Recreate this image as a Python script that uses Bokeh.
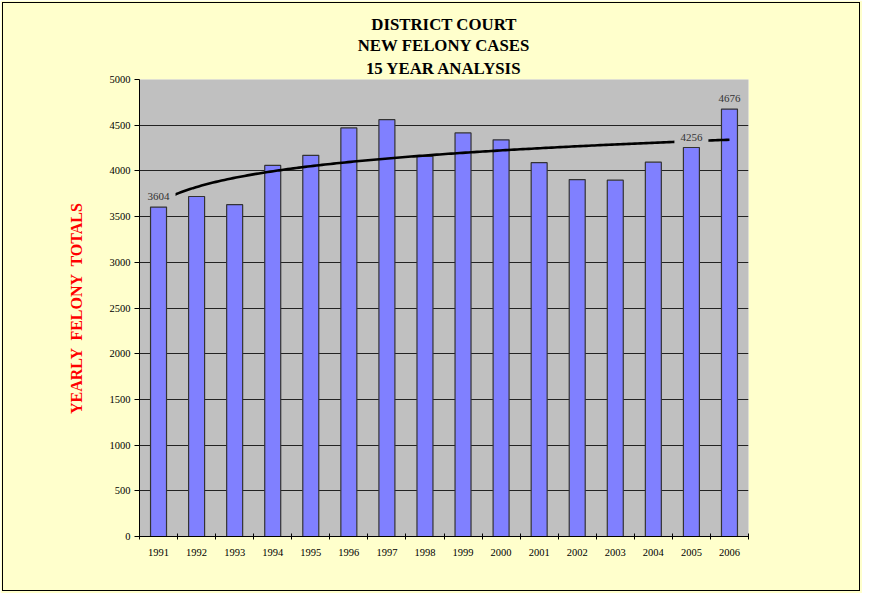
import numpy as np
from bokeh.plotting import figure
from bokeh.models import (FixedTicker, Label, Title, Range1d, ColumnDataSource, InlineStyleSheet)
from bokeh.embed import file_html
from bokeh.resources import INLINE

years = [1991, 1992, 1993, 1994, 1995, 1996, 1997, 1998,
         1999, 2000, 2001, 2002, 2003, 2004, 2005, 2006]
felonies = [3604, 3720, 3630, 4060, 4170, 4470, 4560, 4160,
            4415, 4340, 4090, 3905, 3898, 4095, 4256, 4676]
labeled_years = [1991, 2005, 2006]
y_ticks = [0, 500, 1000, 1500, 2000, 2500, 3000, 3500, 4000, 4500, 5000]
title_lines = ["DISTRICT COURT", "NEW FELONY CASES", "15 YEAR ANALYSIS"]

SERIF = "Liberation Serif"
BG = "#FFFFCC"
PLOT_BG = "#C0C0C0"

idx = list(range(1, len(years) + 1))

W, H = 862, 593
p = figure(width=W, height=H, output_backend="svg", toolbar_location=None,
           x_range=Range1d(0.5, len(years) + 0.5), y_range=Range1d(0, 5000),
           min_border_left=139, min_border_right=114, min_border_top=79,
           min_border_bottom=57)
p.title = None
# titles added "above" stack outward, so add the last line first
for k, line in enumerate(reversed(title_lines)):
    p.add_layout(Title(text=line, align="center", text_font=SERIF,
                       text_font_size="16.8px", text_font_style="bold",
                       text_color="black", standoff=(4 if k == 0 else 0)), "above")

p.border_fill_color = BG
p.background_fill_color = PLOT_BG
p.outline_line_color = None
p.stylesheets = [InlineStyleSheet(css=(
    ":host::after { content: ''; position: absolute; left: 2px; top: 2px; "
    "right: 2px; bottom: 2px; border: 1.5px solid black; "
    "pointer-events: none; z-index: 1000; }"))]

src = ColumnDataSource(dict(x=idx, top=felonies))
p.vbar(x="x", top="top", width=0.42, bottom=0, source=src,
       fill_color="#8080FF", line_color="#333333", line_width=1.2)

# logarithmic trend line (least-squares fit of value vs ln(index))
b, a = np.polyfit(np.log(idx), felonies, 1)
tx = np.linspace(1, len(years), 200)
ty = a + b * np.log(tx)
p.line(tx, ty, line_color="black", line_width=2.6)

for yr in labeled_years:
    i = years.index(yr)
    p.add_layout(Label(x=i + 1, y=felonies[i], text=str(felonies[i]),
                       text_align="center", text_baseline="bottom",
                       y_offset=1, text_font=SERIF, text_font_size="11px",
                       text_color="#333333", background_fill_color=PLOT_BG,
                       padding=6))

# axes
p.xaxis.ticker = FixedTicker(ticks=idx, minor_ticks=[i + 0.5 for i in range(0, len(years) + 1)])
p.xaxis.major_label_overrides = {i: str(y) for i, y in zip(idx, years)}
p.xaxis.major_tick_out = 0
p.xaxis.major_tick_in = 0
p.xaxis.minor_tick_out = 3
p.xaxis.minor_tick_in = 3
p.xaxis.minor_tick_line_color = "black"
p.xaxis.axis_line_color = "black"
p.xaxis.major_label_standoff = 9
p.xaxis.major_label_text_font = SERIF
p.xaxis.major_label_text_font_size = "10.5px"
p.xaxis.major_label_text_color = "black"

p.yaxis.ticker = FixedTicker(ticks=y_ticks)
p.yaxis.major_tick_out = 5
p.yaxis.major_tick_in = 0
p.yaxis.minor_tick_line_color = None
p.yaxis.axis_line_color = "black"
p.yaxis.major_tick_line_color = "black"
p.yaxis.major_label_standoff = 4
p.yaxis.major_label_text_font = SERIF
p.yaxis.major_label_text_font_size = "10.5px"
p.yaxis.major_label_text_color = "black"
p.yaxis.axis_label = "YEARLY \u00a0FELONY \u00a0TOTALS"
p.yaxis.axis_label_text_font = SERIF
p.yaxis.axis_label_text_font_size = "16px"
p.yaxis.axis_label_text_font_style = "bold"
p.yaxis.axis_label_text_color = "#FF0000"
p.yaxis.axis_label_standoff = 22

p.xgrid.grid_line_color = None
p.ygrid.ticker = FixedTicker(ticks=y_ticks[1:-1])
p.ygrid.grid_line_color = "#222222"
p.ygrid.grid_line_width = 1

open("out.html", "w").write(file_html(p, INLINE))
